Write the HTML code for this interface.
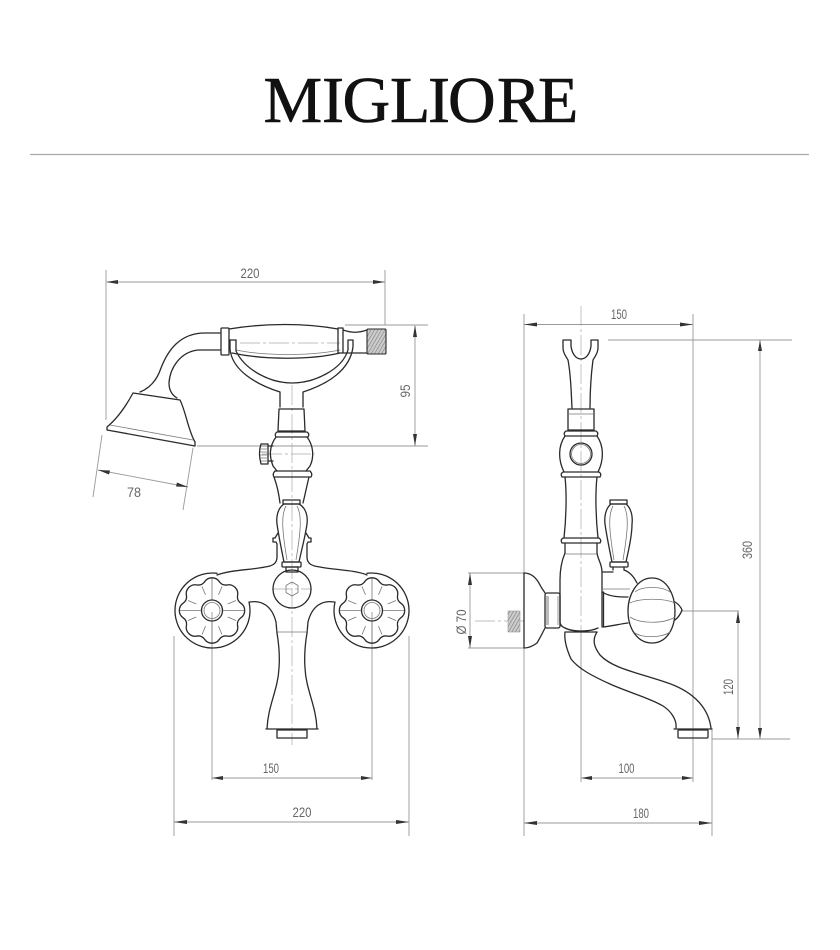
<!DOCTYPE html>
<html><head><meta charset="utf-8"><style>
html,body{margin:0;padding:0;background:#fff;width:840px;height:950px;overflow:hidden}
svg{display:block;filter:blur(.35px)}
.o{fill:none;stroke:#2a2a2a;stroke-width:1.3;stroke-linejoin:round;stroke-linecap:round}
.t{fill:none;stroke:#777;stroke-width:.8}
.d{fill:none;stroke:#999;stroke-width:.9}
.c{fill:none;stroke:#aaa;stroke-width:.7;stroke-dasharray:20 3 3 3}
.a{fill:#333}
.l{font-family:"Liberation Sans",sans-serif;font-size:13.5px;fill:#666;text-anchor:middle}
</style></head><body>
<svg width="840" height="950" viewBox="0 0 840 950" xmlns="http://www.w3.org/2000/svg">
<defs>
<pattern id="h" width="3" height="3" patternUnits="userSpaceOnUse" patternTransform="rotate(30)"><rect width="3" height="3" fill="#ccc"/><line x1="0" y1="0" x2="0" y2="3" stroke="#777" stroke-width="1.1"/></pattern>
<path id="lobe" class="o" d="M28.500 -7.600A9 9 0 0 1 28.500 7.600Q24.900 10.300 25.500 14.800"/>
<g id="ros">
<use href="#lobe"/>
<use href="#lobe" transform="rotate(45)"/>
<use href="#lobe" transform="rotate(90)"/>
<use href="#lobe" transform="rotate(135)"/>
<use href="#lobe" transform="rotate(180)"/>
<use href="#lobe" transform="rotate(225)"/>
<use href="#lobe" transform="rotate(270)"/>
<use href="#lobe" transform="rotate(315)"/>
<circle class="o" r="10.500"/>
<circle class="t" r="8"/>
<path class="t" d="M15.700 6.500L24 10M6.500 15.700L10 24M-6.500 15.700L-10 24M-15.700 6.500L-24 10M-15.700 -6.500L-24 -10M-6.500 -15.700L-10 -24M6.500 -15.700L10 -24M15.700 -6.500L24 -10"/>
<path class="t" d="M-32 0H-11M11 0H32M0 -32V-11M0 11V32"/>
</g>
</defs>
<text y="122" x="263.500 322 342.500 390 428 448 497 538" font-family="'Liberation Serif',serif" font-size="66" fill="#111" stroke="#111" stroke-width=".6">MIGLIORE</text>
<line x1="30" y1="154.500" x2="809" y2="154.500" stroke="#aaa" stroke-width="1.2"/>

<!-- LEFT: dimensions -->
<g class="d">
<path d="M106 270V420M385 270V325M107 282H385"/>
<path d="M345 325H428M197 446H428M415 326V446"/>
<path d="M102 435L93 497M193 448L183 510M98 470L188 487"/>
<path d="M212 612V780M372 612V780M212 778H372"/>
<path d="M174 636V836M409 636V836M174 822H409"/>
</g>
<g class="a">
<path d="M106 282L118 280V284ZM385 282L373 280V284Z"/>
<path d="M415 325L413 337H417ZM415 446L413 434H417Z"/>
<path d="M98 470L110 470.500L109 474.500ZM188 487L176 486.500L177 482.500Z"/>
<path d="M212 778L223 776V780ZM372 778L361 776V780Z"/>
<path d="M174 822L187 820V824ZM409 822L396 820V824Z"/>
</g>
<text class="l" x="250" y="278" textLength="19" lengthAdjust="spacingAndGlyphs">220</text>
<text class="l" x="134" y="497" textLength="14" lengthAdjust="spacingAndGlyphs">78</text>
<text class="l" x="271" y="773" textLength="16" lengthAdjust="spacingAndGlyphs">150</text>
<text class="l" x="302" y="817" textLength="19" lengthAdjust="spacingAndGlyphs">220</text>
<text class="l" transform="translate(410,391) rotate(-90)" textLength="13" lengthAdjust="spacingAndGlyphs">95</text>

<!-- LEFT: centre lines -->
<path class="c" d="M292 385V745M240 343H340M262 454H315M272 589H312"/>

<!-- LEFT: hand shower -->
<path class="o" d="M220 333H205C180 333 168 350 161 368C157 380 150 388 140 392"/>
<path class="o" d="M220 350H198C180 352 170 368 169 383C169 390 172 395 177 398"/>
<path class="o" d="M133 393L180 400C186 412 188 430 195 442L195 446L107 430L107 427C118 418 126 406 133 393Z"/>
<path class="t" d="M110 425L193 440"/>
<rect class="o" x="221" y="328" width="8" height="27" rx="1"/>
<path class="o" d="M229 329C265 323 305 323 338 329M232 353C265 360 310 360 340 353"/>
<path class="t" d="M236 350C265 356 310 356 340 350"/>
<path class="o" d="M338 328H343V353H338ZM343 330C352 333 358 333 367 330M343 353H367"/>
<rect x="367" y="329" width="19" height="25" fill="url(#h)" stroke="#2a2a2a" stroke-width="1.100" rx="1"/>
<!-- cradle -->
<path class="o" d="M230 340V349C232 370 255 384 280 392V407M236 340V351C245 370 270 383 292 383C314 383 342 370 348 350V340H353V347C350 370 328 384 303 392V407"/>
<path class="o" d="M230 340H236"/>
<!-- stem -->
<path class="o" d="M279 409H304L305 431H278Z"/>
<path class="o" d="M277 432H307Q310 434 308 437H276Q274 434 277 432Z"/>
<path class="o" d="M276 437C268 448 270 458 273 466L277 471M307 437C314 446 314 458 310 466L306 471"/>
<path class="o" d="M275 471H310Q313 474 311 477H274Q272 474 275 471Z"/>
<path class="o" d="M274 477C277 485 279 495 280 503M309 477C307 485 305 495 303 503"/>
<path class="o" d="M273 446H268V461H273M268 444H261Q258 453 261 464H268Z"/>
<path class="t" d="M261 446H267M260 449H267M260 452H267M260 455H267M260 458H267M261 461H267"/>
<!-- lever -->
<rect class="o" x="283" y="500" width="17" height="4"/>
<path class="o" d="M284 504C278 508 276 516 277 524C279 538 282 552 284 562H299C301 552 305 538 307 524C308 516 306 508 299 504Z"/>
<path class="t" d="M286 506C281 515 282 530 287 560M297 506C302 515 301 530 296 560"/>
<rect class="o" x="282" y="562" width="19" height="5" rx="1"/>
<rect class="o" x="286" y="567" width="12" height="5"/>
<path class="o" d="M278 533L275 538H273V542H276L277 544V557C277 564 272 566 265 567C250 570 230 570 217 575"/>
<path class="o" d="M306 533L309 538H311V542H308L307 544V557C307 564 312 566 320 567C335 570 355 570 367 575"/>
<circle class="o" cx="292" cy="589" r="19"/>
<path class="t" d="M292 582L298 585.500V592.500L292 596L286 592.500V585.500Z"/>
<path class="o" d="M250 602C262 600 272 606 276 622L277 633M334 602C322 600 312 606 308 622L307 633"/>
<path class="t" d="M277 632H307"/>
<path class="o" d="M277 633C279 645 280 655 279 668C278 690 268 705 267 729M307 633C305 645 304 655 305 668C306 690 316 705 317 729M266 729H318"/>
<rect class="o" x="277" y="730" width="30" height="8"/>
<!-- knobs -->
<path class="o" d="M249 602A37.500 37.500 0 1 1 217 573.300"/>
<use href="#ros" transform="translate(212,610.500)"/>
<path class="o" d="M335 602A37.500 37.500 0 1 0 367 573.300"/>
<use href="#ros" transform="translate(372,610.500)"/>

<!-- RIGHT: dimensions -->
<g class="d">
<path d="M524 314V573M524 648V836M693 314V782M524 324.500H693"/>
<path d="M608 340H792M712 739H790M760 340V739"/>
<path d="M468 573H524M468 648H524M470 573V648"/>
<path d="M682 611H739M738 611V739"/>
<path d="M581 632V782M581 778H693"/>
<path d="M712 729V836M524 823H712"/>
</g>
<g class="a">
<path d="M524 324.500L537 322.500V326.500ZM693 324.500L680 322.500V326.500Z"/>
<path d="M760 340L758 351H762ZM760 739L758 728H762Z"/>
<path d="M470 573L468 585H472ZM470 648L468 636H472Z"/>
<path d="M738 611L736 623H740ZM738 739L736 727H740Z"/>
<path d="M581 778L592 776V780ZM693 778L682 776V780Z"/>
<path d="M524 823L537 821V825ZM712 823L699 821V825Z"/>
</g>
<text class="l" x="619" y="319" textLength="16" lengthAdjust="spacingAndGlyphs">150</text>
<text class="l" x="626.500" y="773" textLength="16" lengthAdjust="spacingAndGlyphs">100</text>
<text class="l" x="641" y="818" textLength="16" lengthAdjust="spacingAndGlyphs">180</text>
<text class="l" transform="translate(752,550) rotate(-90)" textLength="18" lengthAdjust="spacingAndGlyphs">360</text>
<text class="l" transform="translate(733,687) rotate(-90)" textLength="16" lengthAdjust="spacingAndGlyphs">120</text>
<text class="l" transform="translate(466,622) rotate(-90)" textLength="25" lengthAdjust="spacingAndGlyphs">Ø 70</text>

<path class="c" d="M581 306V632M475 621H527"/>

<!-- RIGHT: holder -->
<path class="o" d="M572 408C571 390 571 375 568 360C565 355 563 352 563 348V340H571V346C572 354 576 359 581 359C586 359 590 354 591 346V340H598V348C598 352 596 355 593 360C591 375 590 390 590 408"/>
<rect class="o" x="568" y="409" width="26" height="21"/>
<path class="t" d="M568 414H594"/>
<path class="o" d="M566 431H596Q599 433 597 436H565Q563 433 566 431Z"/>
<path class="o" d="M565 436C558 446 558 460 564 472M597 436C604 446 604 460 598 472"/>
<circle class="o" cx="581" cy="454" r="11"/>
<circle class="t" cx="581" cy="454" r="9.500"/>
<path class="o" d="M563 472H599Q602 474 600 477H562Q560 474 563 472Z"/>
<path class="o" d="M565 477C567 495 566 520 564 538M597 477C595 495 596 520 598 538"/>
<path class="o" d="M563 538H599Q602 540 600 543H562Q560 540 563 538Z"/>
<path class="o" d="M565 543V553M597 543V553"/>
<path class="o" d="M565 553C562 560 560 570 560 580V622Q560 626 565 628M597 553C598 560 602 564 602 572V627"/>
<path class="t" d="M565 554H597"/>
<path class="o" d="M565 628C572 632 590 632 598 628M566 632H597"/>
<!-- flange -->
<path class="o" d="M524 573V648M524 573C532 573 537 579 540 585C542 589 544 591 545 593M545 628C542 634 540 638 537 643C533 646 529 648 524 648"/>
<rect class="o" x="545" y="593" width="15" height="35" rx="2"/>
<rect x="546" y="596" width="3" height="29" fill="#bbb"/>
<rect x="557" y="596" width="2" height="29" fill="#ccc"/>
<rect x="508" y="611" width="12" height="21" fill="url(#h)" stroke="#999" stroke-width=".6"/>
<!-- right lever -->
<rect class="o" x="610" y="500" width="17" height="4"/>
<path class="o" d="M611 504C606 508 604 516 605 524C607 538 610 552 612 562H626C628 552 632 538 632 524C633 516 631 508 626 504Z"/>
<path class="t" d="M613 506C608 515 609 530 614 560M624 506C629 515 628 530 623 560"/>
<rect class="o" x="610" y="562" width="18" height="5" rx="1"/>
<path class="o" d="M613 567V570M624 567V570M602 572H613M624 570C630 572 634 577 637 583"/>
<path class="o" d="M603.500 592V627M602 592C610 597 620 597 628 597M603 627C612 626 620 624 628 623"/>
<path class="t" d="M602 589H630"/>
<!-- globe knob -->
<path class="o" d="M652 578C667 578 675 595 675 611C675 628 667 643 652 643C637 643 628 628 628 611C628 595 637 578 652 578Z"/>
<path class="t" d="M630 603C640 598 664 598 675 603M630 617C640 624 664 624 675 617M635 592C642 586 662 586 670 592M635 633C642 638 662 638 670 632"/>
<path class="o" d="M675 602Q680 605 682 610Q680 616 675 620"/>
<!-- spout -->
<path class="o" d="M565 632C564 640 567 650 571 659C578 668 590 675 610 684C630 693 650 698 663 706C671 711 677 720 676 728"/>
<path class="o" d="M597 632C592 640 594 647 600 655C612 668 635 672 665 682C690 690 708 705 711 728"/>
<path class="o" d="M674 729H712"/>
<rect class="o" x="678" y="730" width="30" height="8" rx="1"/>
</svg>
</body></html>
